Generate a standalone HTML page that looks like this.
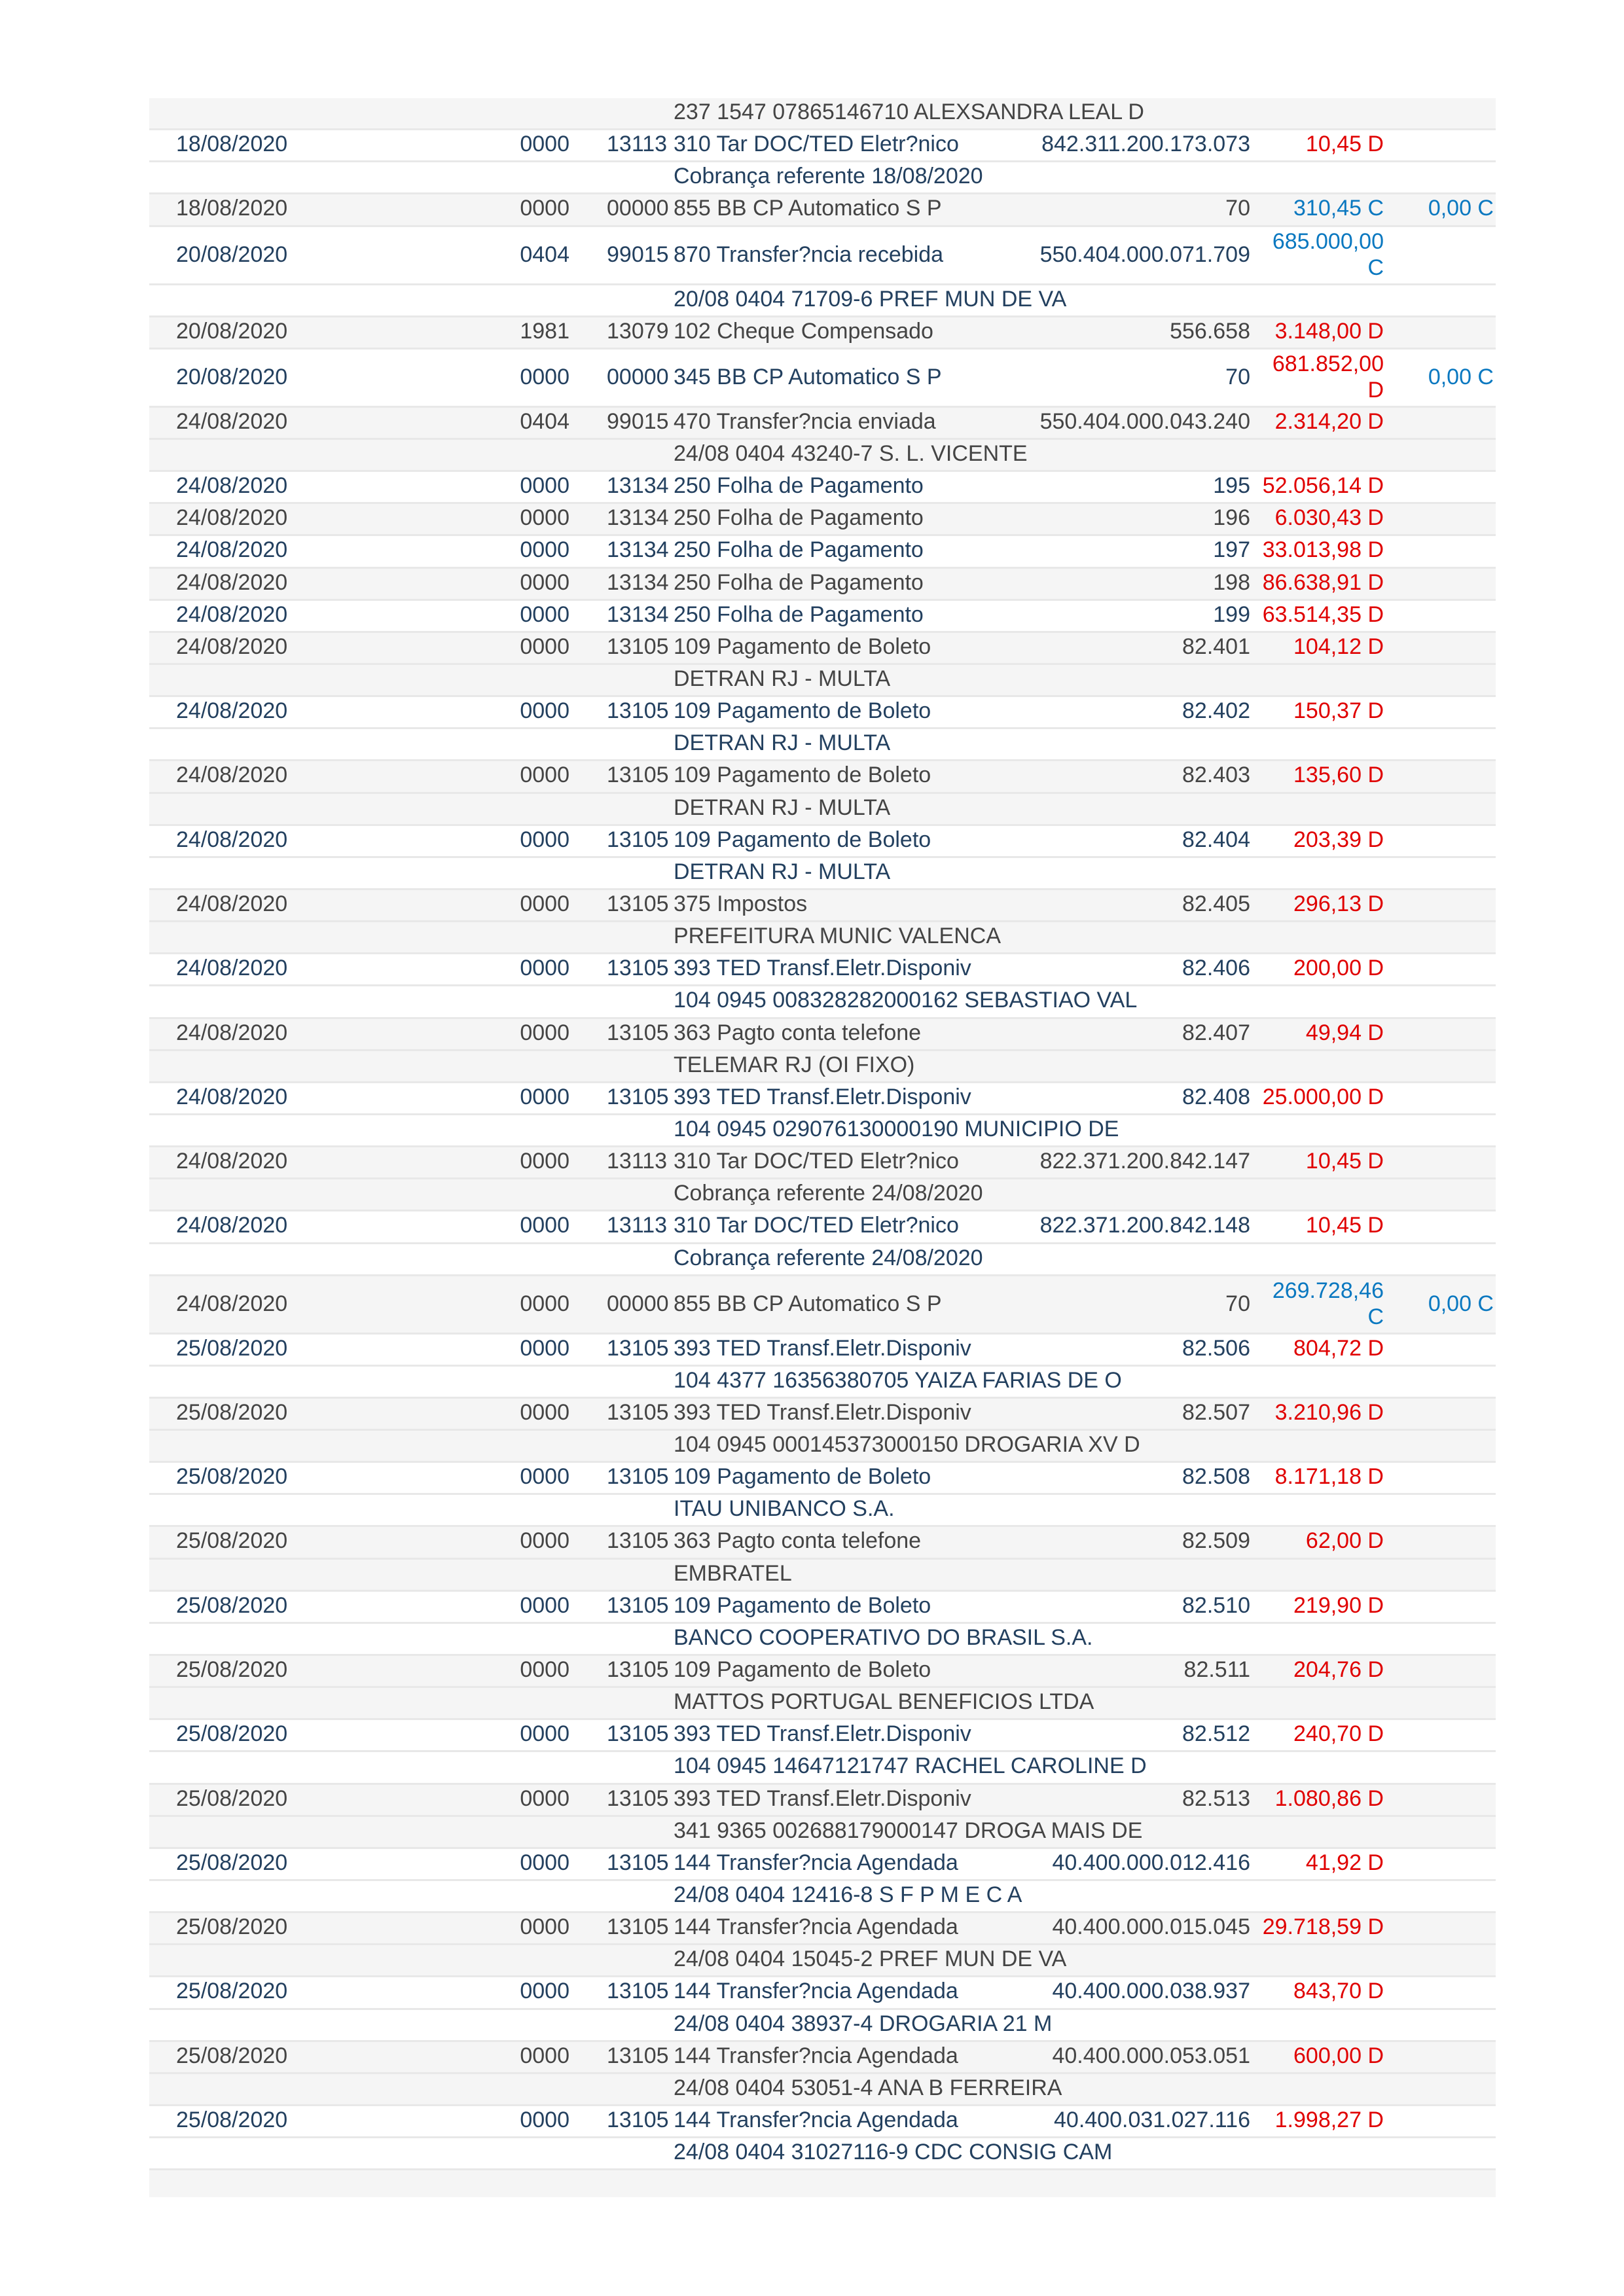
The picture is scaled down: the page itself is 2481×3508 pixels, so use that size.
<!DOCTYPE html>
<html><head><meta charset="utf-8"><style>
html,body{margin:0;padding:0;background:#fff}
body{width:2481px;height:3508px;position:relative;overflow:hidden;font-family:"Liberation Sans",Arial,sans-serif;font-size:34px}
#t{position:absolute;left:228px;top:150px;width:2057px}
.r{position:relative;height:49.15px;box-sizing:border-box;border-bottom:3px solid #e8e8e8}
.T{height:89px}
.w{background:#fff;color:#23405f}
.g{background:#f5f5f5;color:#444}
.r span{position:absolute;white-space:nowrap;line-height:40px;top:1px}
.T span{top:2px;line-height:40px}
.T span.m{top:22px}
.d{left:41px}
.a{right:1415px;text-align:right}
.l{left:699px}
.h{left:801px}
.x{right:375px;text-align:right}
.v{right:171px;width:190px;text-align:right;white-space:normal!important;color:#e00000}
.c{color:#0a78c0!important}
.s{right:3px;text-align:right;color:#0a78c0}
.e{height:41px;border-bottom:none}
</style></head><body><div id="t">
<div class="r g"><span class="h">237 1547 07865146710 ALEXSANDRA LEAL D</span></div>
<div class="r w"><span class="d">18/08/2020</span><span class="a">0000</span><span class="l">13113</span><span class="h">310 Tar DOC/TED Eletr?nico</span><span class="x">842.311.200.173.073</span><span class="v">10,45 D</span></div>
<div class="r w"><span class="h">Cobrança referente 18/08/2020</span></div>
<div class="r g"><span class="d">18/08/2020</span><span class="a">0000</span><span class="l">00000</span><span class="h">855 BB CP Automatico S P</span><span class="x">70</span><span class="v c">310,45 C</span><span class="s">0,00 C</span></div>
<div class="r w T"><span class="d m">20/08/2020</span><span class="a m">0404</span><span class="l m">99015</span><span class="h m">870 Transfer?ncia recebida</span><span class="x m">550.404.000.071.709</span><span class="v c">685.000,00 C</span></div>
<div class="r w"><span class="h">20/08 0404 71709-6 PREF MUN DE VA</span></div>
<div class="r g"><span class="d">20/08/2020</span><span class="a">1981</span><span class="l">13079</span><span class="h">102 Cheque Compensado</span><span class="x">556.658</span><span class="v">3.148,00 D</span></div>
<div class="r w T"><span class="d m">20/08/2020</span><span class="a m">0000</span><span class="l m">00000</span><span class="h m">345 BB CP Automatico S P</span><span class="x m">70</span><span class="v">681.852,00 D</span><span class="s m">0,00 C</span></div>
<div class="r g"><span class="d">24/08/2020</span><span class="a">0404</span><span class="l">99015</span><span class="h">470 Transfer?ncia enviada</span><span class="x">550.404.000.043.240</span><span class="v">2.314,20 D</span></div>
<div class="r g"><span class="h">24/08 0404 43240-7 S. L. VICENTE</span></div>
<div class="r w"><span class="d">24/08/2020</span><span class="a">0000</span><span class="l">13134</span><span class="h">250 Folha de Pagamento</span><span class="x">195</span><span class="v">52.056,14 D</span></div>
<div class="r g"><span class="d">24/08/2020</span><span class="a">0000</span><span class="l">13134</span><span class="h">250 Folha de Pagamento</span><span class="x">196</span><span class="v">6.030,43 D</span></div>
<div class="r w"><span class="d">24/08/2020</span><span class="a">0000</span><span class="l">13134</span><span class="h">250 Folha de Pagamento</span><span class="x">197</span><span class="v">33.013,98 D</span></div>
<div class="r g"><span class="d">24/08/2020</span><span class="a">0000</span><span class="l">13134</span><span class="h">250 Folha de Pagamento</span><span class="x">198</span><span class="v">86.638,91 D</span></div>
<div class="r w"><span class="d">24/08/2020</span><span class="a">0000</span><span class="l">13134</span><span class="h">250 Folha de Pagamento</span><span class="x">199</span><span class="v">63.514,35 D</span></div>
<div class="r g"><span class="d">24/08/2020</span><span class="a">0000</span><span class="l">13105</span><span class="h">109 Pagamento de Boleto</span><span class="x">82.401</span><span class="v">104,12 D</span></div>
<div class="r g"><span class="h">DETRAN RJ - MULTA</span></div>
<div class="r w"><span class="d">24/08/2020</span><span class="a">0000</span><span class="l">13105</span><span class="h">109 Pagamento de Boleto</span><span class="x">82.402</span><span class="v">150,37 D</span></div>
<div class="r w"><span class="h">DETRAN RJ - MULTA</span></div>
<div class="r g"><span class="d">24/08/2020</span><span class="a">0000</span><span class="l">13105</span><span class="h">109 Pagamento de Boleto</span><span class="x">82.403</span><span class="v">135,60 D</span></div>
<div class="r g"><span class="h">DETRAN RJ - MULTA</span></div>
<div class="r w"><span class="d">24/08/2020</span><span class="a">0000</span><span class="l">13105</span><span class="h">109 Pagamento de Boleto</span><span class="x">82.404</span><span class="v">203,39 D</span></div>
<div class="r w"><span class="h">DETRAN RJ - MULTA</span></div>
<div class="r g"><span class="d">24/08/2020</span><span class="a">0000</span><span class="l">13105</span><span class="h">375 Impostos</span><span class="x">82.405</span><span class="v">296,13 D</span></div>
<div class="r g"><span class="h">PREFEITURA MUNIC VALENCA</span></div>
<div class="r w"><span class="d">24/08/2020</span><span class="a">0000</span><span class="l">13105</span><span class="h">393 TED Transf.Eletr.Disponiv</span><span class="x">82.406</span><span class="v">200,00 D</span></div>
<div class="r w"><span class="h">104 0945 008328282000162 SEBASTIAO VAL</span></div>
<div class="r g"><span class="d">24/08/2020</span><span class="a">0000</span><span class="l">13105</span><span class="h">363 Pagto conta telefone</span><span class="x">82.407</span><span class="v">49,94 D</span></div>
<div class="r g"><span class="h">TELEMAR RJ (OI FIXO)</span></div>
<div class="r w"><span class="d">24/08/2020</span><span class="a">0000</span><span class="l">13105</span><span class="h">393 TED Transf.Eletr.Disponiv</span><span class="x">82.408</span><span class="v">25.000,00 D</span></div>
<div class="r w"><span class="h">104 0945 029076130000190 MUNICIPIO DE</span></div>
<div class="r g"><span class="d">24/08/2020</span><span class="a">0000</span><span class="l">13113</span><span class="h">310 Tar DOC/TED Eletr?nico</span><span class="x">822.371.200.842.147</span><span class="v">10,45 D</span></div>
<div class="r g"><span class="h">Cobrança referente 24/08/2020</span></div>
<div class="r w"><span class="d">24/08/2020</span><span class="a">0000</span><span class="l">13113</span><span class="h">310 Tar DOC/TED Eletr?nico</span><span class="x">822.371.200.842.148</span><span class="v">10,45 D</span></div>
<div class="r w"><span class="h">Cobrança referente 24/08/2020</span></div>
<div class="r g T"><span class="d m">24/08/2020</span><span class="a m">0000</span><span class="l m">00000</span><span class="h m">855 BB CP Automatico S P</span><span class="x m">70</span><span class="v c">269.728,46 C</span><span class="s m">0,00 C</span></div>
<div class="r w"><span class="d">25/08/2020</span><span class="a">0000</span><span class="l">13105</span><span class="h">393 TED Transf.Eletr.Disponiv</span><span class="x">82.506</span><span class="v">804,72 D</span></div>
<div class="r w"><span class="h">104 4377 16356380705 YAIZA FARIAS DE O</span></div>
<div class="r g"><span class="d">25/08/2020</span><span class="a">0000</span><span class="l">13105</span><span class="h">393 TED Transf.Eletr.Disponiv</span><span class="x">82.507</span><span class="v">3.210,96 D</span></div>
<div class="r g"><span class="h">104 0945 000145373000150 DROGARIA XV D</span></div>
<div class="r w"><span class="d">25/08/2020</span><span class="a">0000</span><span class="l">13105</span><span class="h">109 Pagamento de Boleto</span><span class="x">82.508</span><span class="v">8.171,18 D</span></div>
<div class="r w"><span class="h">ITAU UNIBANCO S.A.</span></div>
<div class="r g"><span class="d">25/08/2020</span><span class="a">0000</span><span class="l">13105</span><span class="h">363 Pagto conta telefone</span><span class="x">82.509</span><span class="v">62,00 D</span></div>
<div class="r g"><span class="h">EMBRATEL</span></div>
<div class="r w"><span class="d">25/08/2020</span><span class="a">0000</span><span class="l">13105</span><span class="h">109 Pagamento de Boleto</span><span class="x">82.510</span><span class="v">219,90 D</span></div>
<div class="r w"><span class="h">BANCO COOPERATIVO DO BRASIL S.A.</span></div>
<div class="r g"><span class="d">25/08/2020</span><span class="a">0000</span><span class="l">13105</span><span class="h">109 Pagamento de Boleto</span><span class="x">82.511</span><span class="v">204,76 D</span></div>
<div class="r g"><span class="h">MATTOS PORTUGAL BENEFICIOS LTDA</span></div>
<div class="r w"><span class="d">25/08/2020</span><span class="a">0000</span><span class="l">13105</span><span class="h">393 TED Transf.Eletr.Disponiv</span><span class="x">82.512</span><span class="v">240,70 D</span></div>
<div class="r w"><span class="h">104 0945 14647121747 RACHEL CAROLINE D</span></div>
<div class="r g"><span class="d">25/08/2020</span><span class="a">0000</span><span class="l">13105</span><span class="h">393 TED Transf.Eletr.Disponiv</span><span class="x">82.513</span><span class="v">1.080,86 D</span></div>
<div class="r g"><span class="h">341 9365 002688179000147 DROGA MAIS DE</span></div>
<div class="r w"><span class="d">25/08/2020</span><span class="a">0000</span><span class="l">13105</span><span class="h">144 Transfer?ncia Agendada</span><span class="x">40.400.000.012.416</span><span class="v">41,92 D</span></div>
<div class="r w"><span class="h">24/08 0404 12416-8 S F P M E C A</span></div>
<div class="r g"><span class="d">25/08/2020</span><span class="a">0000</span><span class="l">13105</span><span class="h">144 Transfer?ncia Agendada</span><span class="x">40.400.000.015.045</span><span class="v">29.718,59 D</span></div>
<div class="r g"><span class="h">24/08 0404 15045-2 PREF MUN DE VA</span></div>
<div class="r w"><span class="d">25/08/2020</span><span class="a">0000</span><span class="l">13105</span><span class="h">144 Transfer?ncia Agendada</span><span class="x">40.400.000.038.937</span><span class="v">843,70 D</span></div>
<div class="r w"><span class="h">24/08 0404 38937-4 DROGARIA 21 M</span></div>
<div class="r g"><span class="d">25/08/2020</span><span class="a">0000</span><span class="l">13105</span><span class="h">144 Transfer?ncia Agendada</span><span class="x">40.400.000.053.051</span><span class="v">600,00 D</span></div>
<div class="r g"><span class="h">24/08 0404 53051-4 ANA B FERREIRA</span></div>
<div class="r w"><span class="d">25/08/2020</span><span class="a">0000</span><span class="l">13105</span><span class="h">144 Transfer?ncia Agendada</span><span class="x">40.400.031.027.116</span><span class="v">1.998,27 D</span></div>
<div class="r w"><span class="h">24/08 0404 31027116-9 CDC CONSIG CAM</span></div>
<div class="r g e"></div>
</div></body></html>
